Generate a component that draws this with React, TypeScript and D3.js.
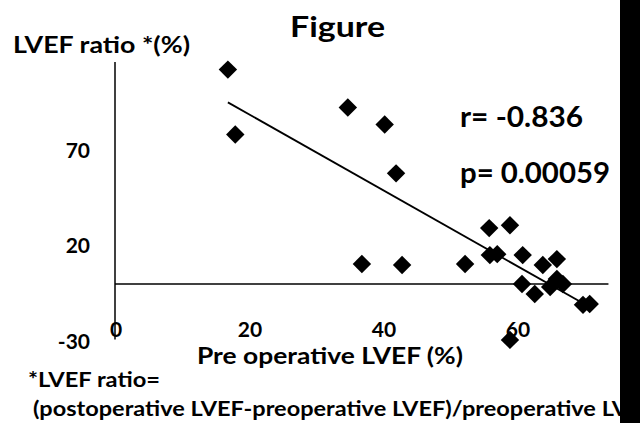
import * as d3 from "d3";
import { useEffect, useRef } from "react";

// Data (pre operative LVEF %, LVEF ratio %)
const preLVEF = [
  16.7, 17.8, 34.6, 40.1, 41.8, 36.7, 42.7, 52.1, 55.7, 58.8, 55.8, 56.9,
  60.7, 63.7, 65.8, 60.6, 62.5, 64.8, 65.8, 66.7, 69.7, 70.7, 58.8
];
const lvefRatio = [
  112.0, 78.1, 92.2, 83.3, 57.8, 10.4, 9.9, 10.4, 29.2, 30.7, 15.1, 15.6,
  15.1, 9.9, 13.0, 0, -5.2, -1.6, 2.6, 0, -10.9, -10.4, -29.2
];
const xTicks = [0, 20, 40, 60];
const yTicks = [70, 20, -30];

const FONT = "Lato, 'Open Sans', sans-serif";

const drawChart = (node: SVGSVGElement) => {
  const width = 640;
  const height = 423;

  const svg = d3.select(node);
  svg.selectAll("*").remove();

  const data = preLVEF.map((x, i) => ({ x, y: lvefRatio[i] }));

  // Scales
  const xScale = d3.scaleLinear().domain([0, 60]).range([116, 518]);
  const yScale = d3.scaleLinear().domain([0, 70]).range([284, 150]);

  svg.append("rect").attr("width", width).attr("height", height).attr("fill", "#fff");

  // Axis lines
  svg.append("line")
    .attr("x1", xScale(0) - 1).attr("x2", xScale(0) - 1)
    .attr("y1", yScale(116)).attr("y2", yScale(-29))
    .attr("stroke", "#000").attr("stroke-width", 1.5);

  svg.append("line")
    .attr("x1", xScale(0) - 1).attr("x2", xScale(73.5))
    .attr("y1", yScale(0)).attr("y2", yScale(0))
    .attr("stroke", "#000").attr("stroke-width", 1.5);

  // Tick labels
  svg.append("g").selectAll("text")
    .data(yTicks)
    .join("text")
    .attr("x", 90)
    .attr("y", d => yScale(d))
    .attr("dy", "0.36em")
    .attr("text-anchor", "end")
    .attr("font-family", FONT)
    .attr("font-weight", "bold")
    .attr("font-size", 21)
    .text(d => d);

  svg.append("g").selectAll("text")
    .data(xTicks)
    .join("text")
    .attr("x", d => xScale(d))
    .attr("y", 337)
    .attr("text-anchor", "middle")
    .attr("font-family", FONT)
    .attr("font-weight", "bold")
    .attr("font-size", 21)
    .text(d => d);

  // Trend line (least squares over the data range)
  const mx = d3.mean(data, d => d.x)!;
  const my = d3.mean(data, d => d.y)!;
  const slope = d3.sum(data, d => (d.x - mx) * (d.y - my)) / d3.sum(data, d => (d.x - mx) ** 2);
  const [x0, x1] = d3.extent(data, d => d.x) as [number, number];
  const fit = [x0, x1 - 0.4].map(x => ({ x, y: my + slope * (x - mx) }));

  svg.append("path")
    .datum(fit)
    .attr("fill", "none")
    .attr("stroke", "#000")
    .attr("stroke-width", 1.8)
    .attr("d", d3.line<{ x: number; y: number }>().x(d => xScale(d.x)).y(d => yScale(d.y)));

  // Diamonds
  const diamond = d3.symbol().type(d3.symbolSquare).size(170);
  svg.append("g").selectAll("path")
    .data(data)
    .join("path")
    .attr("transform", d => `translate(${xScale(d.x)},${yScale(d.y)}) rotate(45)`)
    .attr("d", diamond)
    .attr("fill", "#000");

  // Texts
  const label = (txt: string, x: number, y: number, size: number, len?: number) => {
    const t = svg.append("text")
      .attr("x", x).attr("y", y)
      .attr("font-family", FONT)
      .attr("font-weight", "bold")
      .attr("font-size", size)
      .text(txt);
    if (len) t.attr("textLength", len).attr("lengthAdjust", "spacingAndGlyphs");
    return t;
  };

  label("Figure", 290, 37, 28, 95);
  label("LVEF ratio *(%)", 13, 53, 22, 177);
  label("r= -0.836", 460, 127, 28, 123);
  label("p= 0.00059", 460, 183, 28, 150);
  label("Pre operative LVEF (%)", 197, 364, 22, 266);
  label("*LVEF ratio=", 28, 387, 20, 132);
  label("(postoperative LVEF-preoperative LVEF)/preoperative LVEF", 33, 416, 20, 622);

  // Dark scanned edge on the right
  svg.append("rect")
    .attr("x", 620).attr("y", 0)
    .attr("width", 20).attr("height", height)
    .attr("fill", "#000");
};

export default function App() {
  const ref = useRef<SVGSVGElement>(null);

  useEffect(() => {
    if (ref.current) drawChart(ref.current);
  }, []);

  return (
    <svg
      ref={ref}
      width={640}
      height={423}
      style={{ position: "absolute", left: 0, top: 0 }}
    />
  );
}
